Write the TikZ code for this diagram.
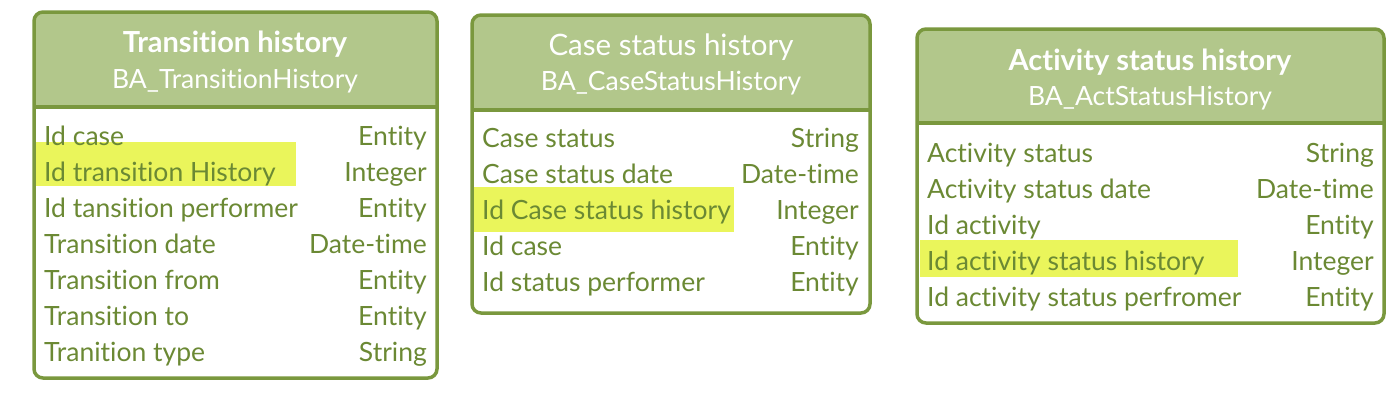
\documentclass[tikz,border=0pt]{standalone}
\usepackage{fontspec}
\setmainfont{Lato}[Ligatures=NoCommon]
\usepackage{tikz}
\usetikzlibrary{positioning,backgrounds}
\definecolor{OliveLine}{RGB}{122,152,62}
\definecolor{OliveText}{RGB}{107,137,52}
\definecolor{HeadFill}{RGB}{178,199,139}
\definecolor{HiYellow}{RGB}{234,245,91}

\begin{document}
\begin{tikzpicture}[x=1pt,y=-1pt,
  frame/.style={draw=OliveLine,line width=3.5pt,rounded corners=9pt},
  sepline/.style={draw=OliveLine,line width=3.5pt},
  headfill/.style={fill=HeadFill},
  hilite/.style={fill=HiYellow},
  ttl/.style={anchor=base,text=white,inner sep=0pt,font=\fontsize{29.5}{32}\selectfont},
  sub/.style={anchor=base,text=white,inner sep=0pt,font=\fontsize{26.5}{30}\selectfont},
  attr/.style={anchor=base west,text=OliveText,inner sep=0pt,font=\fontsize{26.5}{30}\selectfont},
  typ/.style={anchor=base east,text=OliveText,inner sep=0pt,font=\fontsize{26.5}{30}\selectfont},
]
\useasboundingbox (0,0) rectangle (1393,418);

% Transition history
\fill[headfill] (34,107) [rounded corners=9pt] -- (34,12) -- (437,12) [sharp corners] -- (437,107) -- cycle;
\fill[hilite] (36,142) rectangle (296,186);
\draw[frame] (34,12) rectangle (437,378);
\draw[sepline] (34,107) -- (437,107);
\node[ttl,font=\fontsize{29}{32}\selectfont\bfseries] (trTitle) at (235,52) {Transition history};
\node[sub] (trName) at (235,88) {BA\_TransitionHistory};
\node[attr] (trA1) at (44,145) {Id case};
\node[attr] (trA2) at (44,181) {Id transition History};
\node[attr] (trA3) at (44,217) {Id tansition performer};
\node[attr] (trA4) at (44,253) {Transition date};
\node[attr] (trA5) at (44,289) {Transition from};
\node[attr] (trA6) at (44,325) {Transition to};
\node[attr] (trA7) at (44,361) {Tranition type};
\node[typ] (trT1) at (427,145) {Entity};
\node[typ] (trT2) at (427,181) {Integer};
\node[typ] (trT3) at (427,217) {Entity};
\node[typ] (trT4) at (427,253) {Date-time};
\node[typ] (trT5) at (427,289) {Entity};
\node[typ] (trT6) at (427,325) {Entity};
\node[typ] (trT7) at (427,361) {String};

% Case status history
\fill[headfill] (472,110) [rounded corners=9pt] -- (472,15) -- (870,15) [sharp corners] -- (870,110) -- cycle;
\fill[hilite] (474,187) rectangle (734,232);
\draw[frame] (472,15) rectangle (870,313);
\draw[sepline] (472,110) -- (870,110);
\node[ttl] (csTitle) at (671,55) {Case status history};
\node[sub] (csName) at (671,90) {BA\_CaseStatusHistory};
\node[attr] (csA1) at (482,147) {Case status};
\node[attr] (csA2) at (482,183) {Case status date};
\node[attr] (csA3) at (482,219) {Id Case status history};
\node[attr] (csA4) at (482,255) {Id case};
\node[attr] (csA5) at (482,291) {Id status performer};
\node[typ] (csT1) at (859,147) {String};
\node[typ] (csT2) at (859,183) {Date-time};
\node[typ] (csT3) at (859,219) {Integer};
\node[typ] (csT4) at (859,255) {Entity};
\node[typ] (csT5) at (859,291) {Entity};

% Activity status history
\fill[headfill] (917,123) [rounded corners=9pt] -- (917,29) -- (1384,29) [sharp corners] -- (1384,123) -- cycle;
\fill[hilite] (920,240) rectangle (1238,277);
\draw[frame] (917,29) rectangle (1384,323);
\draw[sepline] (917,123) -- (1384,123);
\node[ttl,font=\fontsize{29}{32}\selectfont\bfseries] (asTitle) at (1150,70) {Activity status history};
\node[sub] (asName) at (1150,105) {BA\_ActStatusHistory};
\node[attr] (asA1) at (927,162) {Activity status};
\node[attr] (asA2) at (927,198) {Activity status date};
\node[attr] (asA3) at (927,234) {Id activity};
\node[attr] (asA4) at (927,270) {Id activity status history};
\node[attr] (asA5) at (927,306) {Id activity status perfromer};
\node[typ] (asT1) at (1374,162) {String};
\node[typ] (asT2) at (1374,198) {Date-time};
\node[typ] (asT3) at (1374,234) {Entity};
\node[typ] (asT4) at (1374,270) {Integer};
\node[typ] (asT5) at (1374,306) {Entity};
\end{tikzpicture}
\end{document}
